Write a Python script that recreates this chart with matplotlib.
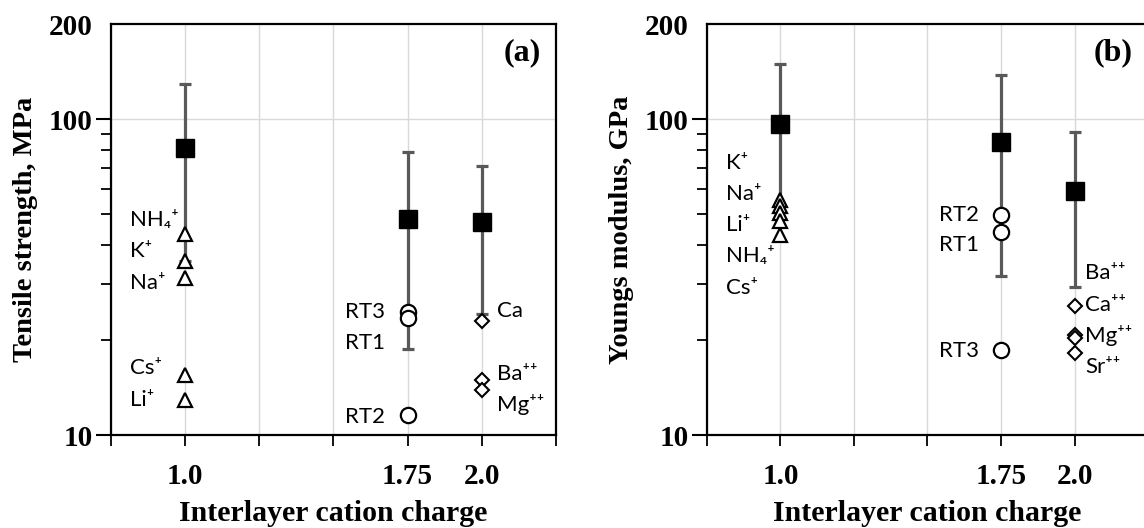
import numpy as np
import matplotlib.pyplot as plt
from matplotlib.ticker import FixedLocator, NullFormatter

# DATA
charge = [1.0, 1.75, 2.0]

# (a) tensile strength, MPa
ts_mean = [81.0, 48.5, 47.3]
ts_upper = [129.0, 79.0, 71.0]
ts_lower = [35.5, 18.7, 24.1]
ts_mono_names = ['NH\u2084\u207a', 'K\u207a', 'Na\u207a', 'Cs\u207a', 'Li\u207a']
ts_mono = [43.4, 35.5, 31.4, 15.5, 12.9]
ts_rt_names = ['RT3', 'RT1', 'RT2']
ts_rt = [24.5, 23.5, 11.6]
ts_di_names = ['Ca', 'Ba\u207a\u207a', 'Mg\u207a\u207a']
ts_di = [22.9, 14.9, 13.9]

# (b) Youngs modulus, GPa
ym_mean = [96.6, 84.6, 59.5]
ym_upper = [149.6, 138.0, 91.0]
ym_lower = [53.0, 32.0, 29.4]
ym_mono_names = ['K\u207a', 'Na\u207a', 'Li\u207a', 'NH\u2084\u207a', 'Cs\u207a']
ym_mono = [55.5, 53.0, 50.5, 47.5, 43.0]
ym_rt_names = ['RT2', 'RT1', 'RT3']
ym_rt = [49.6, 43.9, 18.6]
ym_di_names = ['Ba\u207a\u207a', 'Ca\u207a\u207a', 'Mg\u207a\u207a', 'Sr\u207a\u207a']
ym_di = [20.8, 25.6, 20.3, 18.2]

SERIF = 'Liberation Serif'
SANS = ['Lato', 'DejaVu Sans']
GRAY = '#595959'


def draw_panel(ax, mean, upper, lower, mono, rt, di, names, label_y, di_x, ylabel, tag):
    mono_names, rt_names, di_names = names
    mono_y, rt_y, di_y = label_y

    ax.set_yscale('log')
    ax.set_xlim(0.75, 2.25)
    ax.set_ylim(10, 200)

    # error bars + averages
    mean = np.array(mean)
    err = np.array([mean - np.array(lower), np.array(upper) - mean])
    ax.errorbar(charge, mean, yerr=err, fmt='none', ecolor=GRAY, elinewidth=2.3,
                capsize=4, capthick=2.3, zorder=2)
    ax.plot(charge, mean, 's', color='black', ms=13, zorder=4)

    # individual measurements
    ax.plot([1.0] * len(mono), mono, '^', mfc='white', mec='black', mew=1.6, ms=10, zorder=3)
    ax.plot([1.75] * len(rt), rt, 'o', mfc='white', mec='black', mew=1.6, ms=11, zorder=3)
    ax.plot([2.0] * len(di), di, 'D', mfc='white', mec='black', mew=1.5, ms=7, zorder=3)

    for n, y in zip(mono_names, mono_y):
        ax.text(0.815, y, n, ha='left', va='baseline', fontsize=16, family=SANS)
    for n, y in zip(rt_names, rt_y):
        ax.text(1.675, y, n, ha='right', va='baseline', fontsize=16, family=SANS)
    for n, y in zip(di_names, di_y):
        ax.text(di_x, y, n, ha='left', va='baseline', fontsize=16, family=SANS)

    # axes styling
    ax.xaxis.set_major_locator(FixedLocator(np.arange(0.75, 2.26, 0.25)))
    ax.set_xticklabels(['', '1.0', '', '', '1.75', '2.0', ''])
    ax.yaxis.set_major_locator(FixedLocator([10, 100, 200]))
    ax.set_yticklabels(['10', '100', '200'])
    ax.yaxis.set_minor_locator(FixedLocator(np.arange(20, 100, 10)))
    ax.yaxis.set_minor_formatter(NullFormatter())
    ax.yaxis.get_major_ticks()[2].tick1line.set_visible(False)
    ax.tick_params(axis='x', direction='out', length=8, width=1.3, pad=12)
    ax.tick_params(axis='y', which='major', direction='out', length=11, width=1.5, pad=2)
    ax.tick_params(axis='y', which='minor', direction='out', length=7, width=1.3)
    for lab in ax.get_xticklabels() + ax.get_yticklabels():
        lab.set_fontfamily(SERIF)
        lab.set_fontweight('bold')
        lab.set_fontsize(21)
    for s in ax.spines.values():
        s.set_linewidth(1.6)

    ax.grid(True, axis='x', which='major', color='#d9d9d9', lw=1, zorder=0)
    ax.axhline(100, color='#d9d9d9', lw=1, zorder=0)
    ax.set_axisbelow(True)

    ax.set_xlabel('Interlayer cation charge', family=SERIF, fontweight='bold', fontsize=21.5)
    ax.xaxis.set_label_coords(0.5, -0.158)
    ax.set_ylabel(ylabel, family=SERIF, fontweight='bold', fontsize=20.5)
    ax.yaxis.set_label_coords(-0.165, 0.5)
    ax.text(0.965, 0.93, tag, transform=ax.transAxes, ha='right', va='center',
            family=SERIF, fontweight='bold', fontsize=23)


fig = plt.figure(figsize=(11.44, 5.28), dpi=100)
ax1 = fig.add_axes([0.097, 0.176, 0.389, 0.778])
ax2 = fig.add_axes([0.618, 0.176, 0.3855, 0.778])

draw_panel(ax1, ts_mean, ts_upper, ts_lower, ts_mono, ts_rt, ts_di,
           (ts_mono_names, ts_rt_names, ts_di_names),
           ([46.1, 36.6, 29.1, 15.6, 12.35], [23.4, 18.8, 10.9], [23.7, 14.9, 11.9]),
           2.05, 'Tensile strength, MPa', '(a)')
draw_panel(ax2, ym_mean, ym_upper, ym_lower, ym_mono, ym_rt, ym_di,
           (ym_mono_names, ym_rt_names, ym_di_names),
           ([69.7, 55.6, 44.3, 35.3, 27.9], [47.8, 38.3, 17.7], [31.3, 24.8, 19.7, 15.7]),
           2.037, 'Youngs modulus, GPa', '(b)')

fig.savefig('out.png', dpi=100)
